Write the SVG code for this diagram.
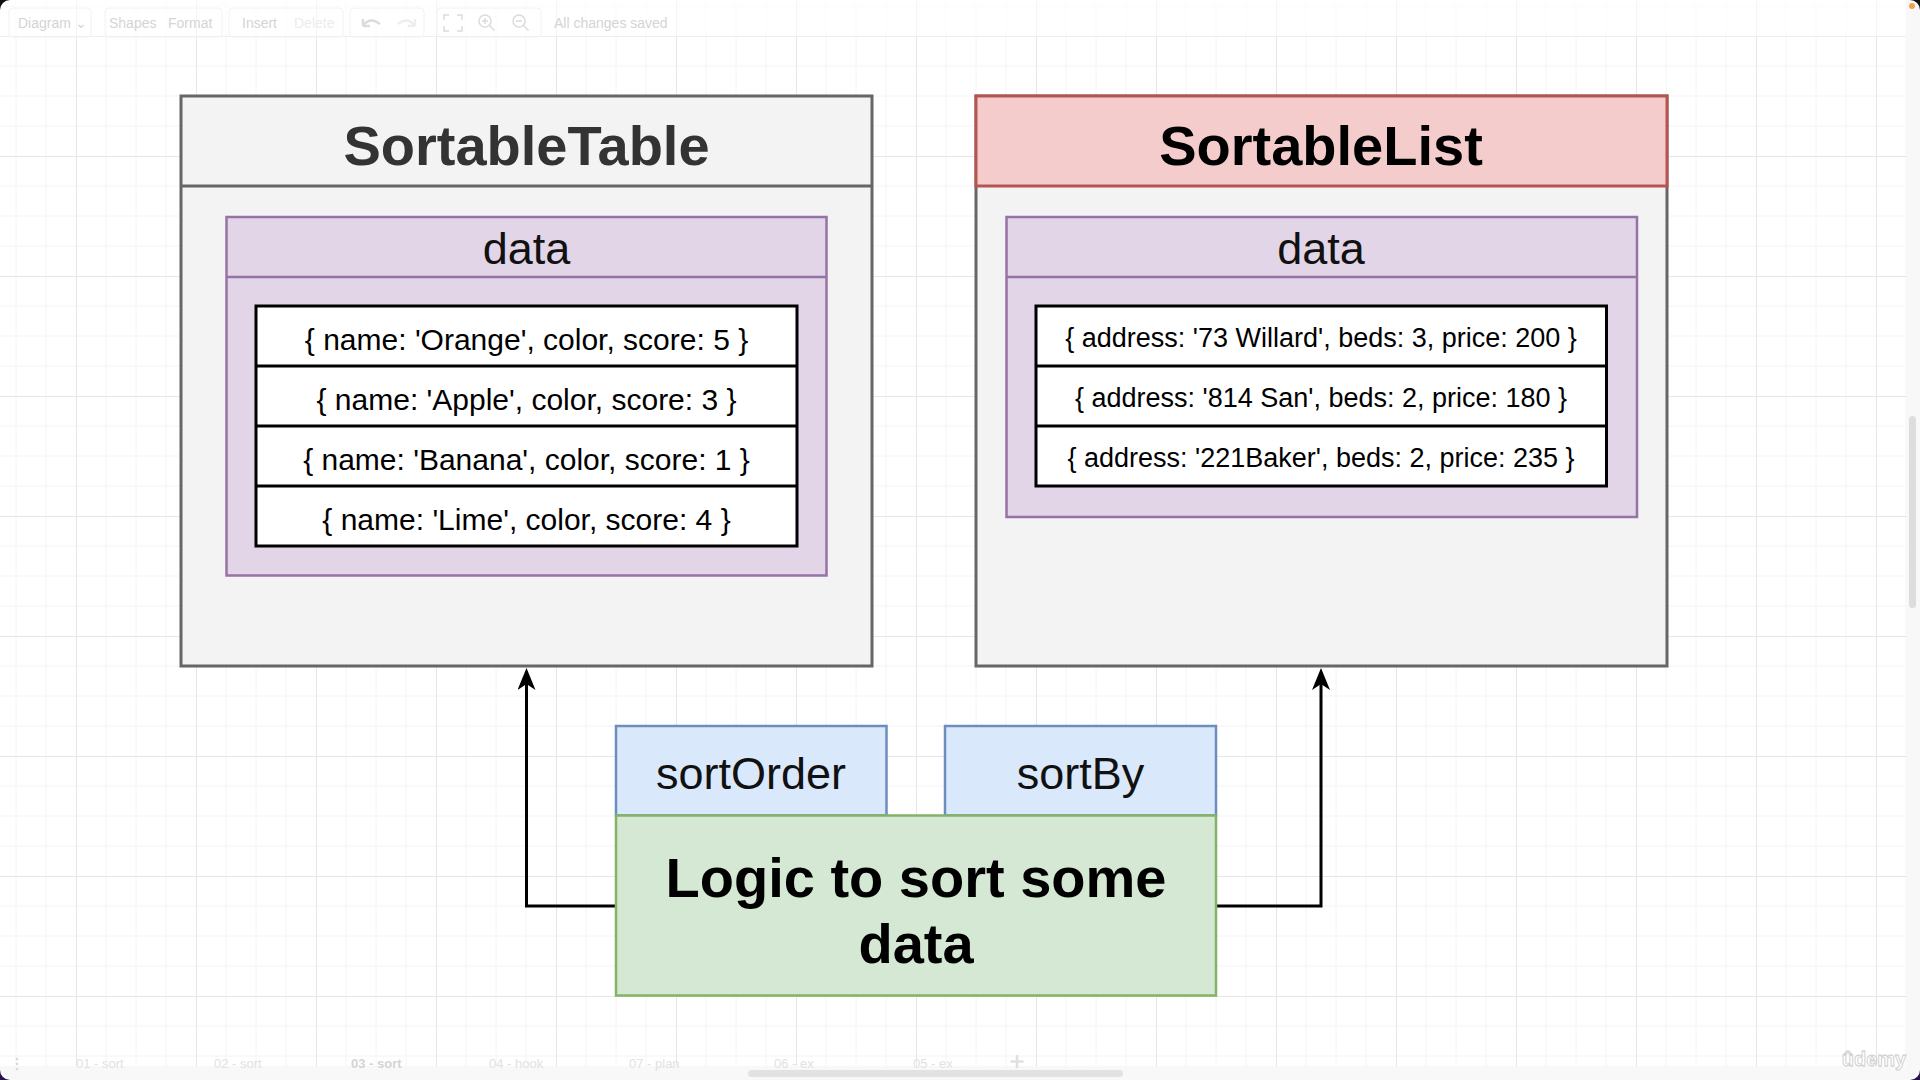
<svg xmlns="http://www.w3.org/2000/svg" width="1920" height="1080" viewBox="0 0 1920 1080">
  <style>
    .t { font-family: "Liberation Sans", Arial, Helvetica, sans-serif; text-anchor: middle; }
    .title { font-size: 56px; font-weight: bold; }
    .hdr { font-size: 45px; fill: #111111; }
    .row { font-size: 30px; fill: #000000; }
    .row2 { font-size: 27px; fill: #000000; }
    .outer { fill: #f3f3f3; stroke: #666666; stroke-width: 3; }
    .purple { fill: #e1d5e7; stroke: #9673a6; stroke-width: 2.5; }
    .list { fill: #ffffff; stroke: #000000; stroke-width: 3; }
    .blue { fill: #dae8fc; stroke: #6c8ebf; stroke-width: 2.5; }
    .green { fill: #d5e8d4; stroke: #82b366; stroke-width: 2.5; }
    .edge { fill: none; stroke: #000000; stroke-width: 3; }
    .ui { font-family: "Liberation Sans", Arial, sans-serif; font-size: 14px; fill: #d4d4d4; }
    .tab { font-family: "Liberation Sans", Arial, sans-serif; font-size: 13px; fill: #e2e2e2; }
    .btn { fill: none; stroke: #f2f2f2; stroke-width: 1; }
    .ico { fill: none; stroke: #dcdcdc; stroke-width: 1.5; }
  </style>
  <defs>
    <pattern id="grid" x="76" y="36" width="120" height="120" patternUnits="userSpaceOnUse">
      <path d="M30 0V120M60 0V120M90 0V120M0 30H120M0 60H120M0 90H120" stroke="#f4f4f4" stroke-width="1" fill="none"/>
      <path d="M0.5 0V120M0 0.5H120" stroke="#e6e6e6" stroke-width="1" fill="none"/>
    </pattern>
    <marker id="arr" viewBox="0 0 22 18" markerWidth="22" markerHeight="18" refX="6" refY="9" orient="auto" markerUnits="userSpaceOnUse">
      <path d="M0,0 L22,9 L0,18 L6,9 Z" fill="#000000"/>
    </marker>
  </defs>

  <!-- background and grid -->
  <rect x="0" y="0" width="1920" height="1080" fill="#ffffff"/>
  <rect x="0" y="0" width="1920" height="1080" fill="url(#grid)"/>

  <!-- top toolbar (faint UI chrome) -->
  <g id="toolbar">
    <rect x="0" y="0" width="1906" height="36" fill="#ffffff" opacity="0.6"/>
    <line x1="0" y1="36.5" x2="1906" y2="36.5" stroke="#eeeeee" stroke-width="1"/>
    <rect class="btn" x="9" y="8" width="82" height="29" rx="4"/>
    <rect class="btn" x="105" y="8" width="117" height="29" rx="4"/>
    <rect class="btn" x="229" y="8" width="114" height="29" rx="4"/>
    <rect class="btn" x="350" y="8" width="74" height="29" rx="4"/>
    <rect class="btn" x="437" y="8" width="104" height="29" rx="4"/>
    <text class="ui" x="18" y="28">Diagram ⌄</text>
    <text class="ui" x="109" y="28">Shapes</text>
    <text class="ui" x="168" y="28">Format</text>
    <text class="ui" x="242" y="28">Insert</text>
    <text class="ui" x="294" y="28" style="fill:#ececec">Delete</text>
    <path class="ico" d="M363 26 q7 -10 17 -2 M363 26 l0 -7 M363 26 l7 0" style="stroke-width:2.5"/>
    <path class="ico" d="M415 26 q-7 -10 -17 -2 M415 26 l0 -7 M415 26 l-7 0" style="stroke:#eeeeee;stroke-width:2.5"/>
    <path class="ico" d="M449 15h-5v5M457 15h5v5M449 31h-5v-5M457 31h5v-5"/>
    <circle class="ico" cx="485" cy="21" r="6"/>
    <path class="ico" d="M489.5 25.5l5 5M482 21h6M485 18v6"/>
    <circle class="ico" cx="519" cy="21" r="6"/>
    <path class="ico" d="M523.5 25.5l5 5M516 21h6"/>
    <text class="ui" x="554" y="28">All changes saved</text>
  </g>

  <!-- right scroll gutter -->
  <g id="scroll-right">
    <rect x="1906" y="0" width="14" height="1080" fill="#f8f8f8"/>
    <rect x="1909" y="416" width="7" height="192" rx="3.5" fill="#dddddd"/>
    <circle cx="1912" cy="6" r="3" fill="#f0a050"/>
  </g>

  <!-- bottom tab bar -->
  <g id="tabs">
    <rect x="0" y="1066" width="1906" height="14" fill="#f8f8f8"/>
    <circle cx="17" cy="1059" r="1.3" fill="#d8d8d8"/>
    <circle cx="17" cy="1064" r="1.3" fill="#d8d8d8"/>
    <circle cx="17" cy="1069" r="1.3" fill="#d8d8d8"/>
    <text class="tab" x="76" y="1068">01 - sort</text>
    <text class="tab" x="214" y="1068">02 - sort</text>
    <text class="tab" x="351" y="1068" style="fill:#d4d4d4;font-weight:bold">03 - sort</text>
    <text class="tab" x="489" y="1068">04 - hook</text>
    <text class="tab" x="629" y="1068">07 - plan</text>
    <text class="tab" x="774" y="1068">06 - ex</text>
    <text class="tab" x="913" y="1068">05 - ex</text>
    <path d="M1017 1055v13M1010.5 1061.5h13" stroke="#e0e0e0" stroke-width="2.5"/>
    <rect x="748" y="1070" width="375" height="7" rx="3.5" fill="#e2e2e2"/>
    <text x="1874" y="1066" style="font-family:'Liberation Sans',Arial,sans-serif;font-size:20px;font-weight:bold;text-anchor:middle;fill:#ffffff;stroke:#c8c8c8;stroke-width:0.8">ûdemy</text>
  </g>

  <!-- window corners -->
  <path d="M0 0H10A10 10 0 0 0 0 10Z" fill="#111111"/>
  <path d="M1920 0H1910A10 10 0 0 1 1920 10Z" fill="#111111"/>
  <path d="M0 1080H10A10 10 0 0 1 0 1070Z" fill="#2a1050"/>
  <path d="M1920 1080H1910A10 10 0 0 0 1920 1070Z" fill="#2a1050"/>

  <!-- SortableTable -->
  <g id="sortable-table">
    <rect class="outer" x="181" y="96" width="691" height="570"/>
    <line x1="181" y1="186" x2="872" y2="186" stroke="#666666" stroke-width="3"/>
    <text class="t title" x="526.5" y="165" fill="#333333">SortableTable</text>
  </g>
  <g id="table-data">
    <rect class="purple" x="226.5" y="217" width="600" height="358.5"/>
    <line x1="226.5" y1="277" x2="826.5" y2="277" stroke="#9673a6" stroke-width="2.5"/>
    <text class="t hdr" x="526.5" y="264">data</text>
  </g>
  <g id="table-list">
    <rect class="list" x="256" y="306" width="541" height="240"/>
    <line x1="256" y1="366" x2="797" y2="366" stroke="#000" stroke-width="3"/>
    <line x1="256" y1="426" x2="797" y2="426" stroke="#000" stroke-width="3"/>
    <line x1="256" y1="486" x2="797" y2="486" stroke="#000" stroke-width="3"/>
    <text class="t row" x="526.5" y="350">{ name: 'Orange', color, score: 5 }</text>
    <text class="t row" x="526.5" y="410">{ name: 'Apple', color, score: 3 }</text>
    <text class="t row" x="526.5" y="470">{ name: 'Banana', color, score: 1 }</text>
    <text class="t row" x="526.5" y="530">{ name: 'Lime', color, score: 4 }</text>
  </g>

  <!-- SortableList -->
  <g id="sortable-list">
    <rect class="outer" x="976" y="96" width="691" height="570"/>
    <rect x="976" y="96" width="691" height="90" fill="#f4cccb" stroke="#b85450" stroke-width="3"/>
    <text class="t title" x="1321" y="165" fill="#000000">SortableList</text>
  </g>
  <g id="list-data">
    <rect class="purple" x="1006.5" y="217" width="630.5" height="300"/>
    <line x1="1006.5" y1="277" x2="1637" y2="277" stroke="#9673a6" stroke-width="2.5"/>
    <text class="t hdr" x="1321" y="264">data</text>
  </g>
  <g id="list-list">
    <rect class="list" x="1036" y="306" width="570.5" height="180"/>
    <line x1="1036" y1="366" x2="1606.5" y2="366" stroke="#000" stroke-width="3"/>
    <line x1="1036" y1="426" x2="1606.5" y2="426" stroke="#000" stroke-width="3"/>
    <text class="t row2" x="1321" y="347">{ address: '73 Willard', beds: 3, price: 200 }</text>
    <text class="t row2" x="1321" y="407">{ address: '814 San', beds: 2, price: 180 }</text>
    <text class="t row2" x="1321" y="467">{ address: '221Baker', beds: 2, price: 235 }</text>
  </g>

  <!-- connectors -->
  <g id="connectors">
    <path class="edge" d="M616 906H526.5V684" marker-end="url(#arr)"/>
    <path class="edge" d="M1216 906H1321V684" marker-end="url(#arr)"/>
  </g>

  <!-- sortOrder / sortBy -->
  <g id="sort-order">
    <rect class="blue" x="616" y="726" width="270.5" height="89.5"/>
    <text class="t hdr" x="751" y="789" fill="#000">sortOrder</text>
  </g>
  <g id="sort-by">
    <rect class="blue" x="945" y="726" width="271" height="89.5"/>
    <text class="t hdr" x="1080.5" y="789" fill="#000">sortBy</text>
  </g>

  <!-- Logic -->
  <g id="logic">
    <rect class="green" x="616" y="815.5" width="600" height="180"/>
    <text class="t title" x="916" y="897" fill="#000000">Logic to sort some</text>
    <text class="t title" x="916" y="963" fill="#000000">data</text>
  </g>
</svg>
